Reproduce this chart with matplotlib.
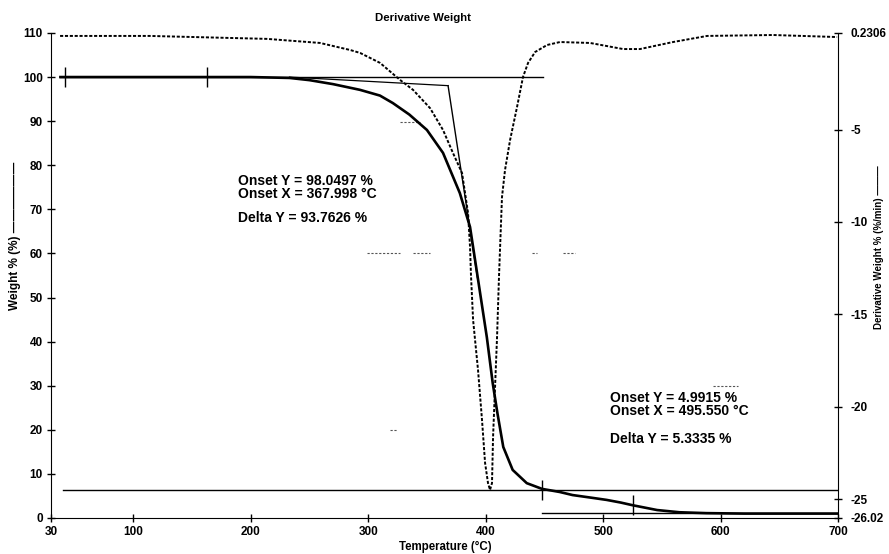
import matplotlib
matplotlib.use("Agg")
import matplotlib.pyplot as plt

plt.rcParams['font.family'] = ['Liberation Sans', 'DejaVu Sans']
plt.rcParams['font.weight'] = 'bold'

# TGA weight curve, weight % vs temperature (C)
temp_w = [38, 100, 150, 200, 233, 250, 270, 293, 310, 321, 335, 350, 363.7, 378,
          386.7, 393, 401, 406, 410, 415, 423, 435, 448, 463, 474, 490, 503, 515,
          525, 546, 565, 588, 620, 660, 700]
weight = [100, 100, 100, 100, 99.8, 99.3, 98.4, 97.1, 95.8, 94.1, 91.5, 88, 82.8, 73.7,
          66, 55, 41, 30.6, 23.8, 16.1, 10.9, 7.9, 6.6, 5.9, 5.2, 4.6, 4.1, 3.5,
          2.9, 1.8, 1.3, 1.1, 1.0, 1.0, 1.0]

# derivative weight, %/min
temp_d = [37.7, 114, 214, 259, 284.6, 293.1, 310.1, 327.1, 338.2, 352.7, 363.7, 372.2,
          379.9, 385, 386.7, 387.5, 389.3, 393.5, 396.9, 399.5, 402, 403.7, 405.4,
          406.3, 408, 409.7, 411.4, 413.9, 416.5, 420.8, 426.7, 431.8, 436.1, 442.1,
          452.3, 463.3, 488.9, 517, 531.4, 559.5, 588.5, 644.7, 699.2]
deriv = [0.07, 0.07, -0.09, -0.31, -0.69, -0.85, -1.39, -2.31, -2.85, -3.84, -5.02, -6.27,
         -7.35, -9.51, -11.35, -12.87, -15.30, -18.01, -20.72, -23.04, -24.13, -24.50, -24.13,
         -21.64, -18.93, -16.22, -12.87, -8.65, -7.18, -5.56, -3.78, -2.15, -1.39, -0.80,
         -0.42, -0.26, -0.31, -0.64, -0.64, -0.26, 0.07, 0.12, 0.01]

# step analysis construction lines
top_T = [38, 449]
top_w = [100, 100]
base_T = [233, 368.0]
base_w = [100, 98.05]
tangent_T = [368.0, 393.0]
tangent_w = [98.05, 54.5]
mid_T = [40, 700]
mid_w = [6.25, 6.25]
end_T = [448, 700]
end_w = [1.07, 1.07]
limit_T = [42, 163, 448, 525.5]
limit_w = [100, 100, 6.3, 2.9]

# small specks left over in the scan: (start T, end T, level)
specks = [(299, 327, 60.1), (338, 352.7, 60.1), (439.5, 443.8, 60.1), (465.9, 476, 60.1),
          (327, 344, 89.8), (318.6, 324.6, 20.0), (593.6, 614.9, 29.9)]

step1_text = ["Onset Y = 98.0497 %", "Onset X = 367.998 °C", "Delta Y = 93.7626 %"]
step2_text = ["Onset Y = 4.9915 %", "Onset X = 495.550 °C", "Delta Y = 5.3335 %"]

x_ticks = [30, 100, 200, 300, 400, 500, 600, 700]
y_ticks = list(range(0, 111, 10))
d_ticks = [0.2306, -5, -10, -15, -20, -25, -26.02]
d_labels = ["0.2306", "-5", "-10", "-15", "-20", "-25", "-26.02"]

fig = plt.figure(figsize=(8.89, 5.54), dpi=100)
ax = fig.add_axes([0.0574, 0.065, 0.8853, 0.8755])
ax2 = ax.twinx()

ax.plot(temp_w, weight, color='black', linewidth=1.9, zorder=3)
ax.plot(top_T, top_w, color='black', linewidth=1.0)
ax.plot(base_T, base_w, color='black', linewidth=0.9)
ax.plot(tangent_T, tangent_w, color='black', linewidth=1.0)
ax.plot(mid_T, mid_w, color='black', linewidth=1.0)
ax.plot(end_T, end_w, color='black', linewidth=1.0)
ax.plot(limit_T, limit_w, linestyle='none', marker='|', markersize=14,
        markeredgewidth=1.0, color='black')
for t0, t1, lev in specks:
    ax.plot([t0, t1], [lev, lev], color='#555555', linewidth=0.8, linestyle=(0, (2, 1.5)))

ax2.plot(temp_d, deriv, color='black', linewidth=1.4, linestyle=(0, (1.6, 0.9)))

ax.set_xlim(30, 700)
ax.set_ylim(0, 110)
ax2.set_ylim(-26.02, 0.2306)

ax.set_xticks(x_ticks)
ax.set_yticks(y_ticks)
ax2.set_yticks(d_ticks)
ax2.set_yticklabels(d_labels)

ax.tick_params(axis='both', direction='inout', length=6, width=1, labelsize=8.5, pad=3)
ax2.tick_params(axis='y', direction='inout', length=6, width=1, labelsize=8.5, pad=6)

for a in (ax, ax2):
    a.spines['top'].set_visible(False)
ax.spines['right'].set_visible(False)
ax2.spines['left'].set_visible(False)
ax2.spines['bottom'].set_visible(False)

for i, s in enumerate(step1_text):
    ax.text(189.2, [76.4, 73.4, 68.0][i], s, fontsize=10, ha='left', va='center')
for i, s in enumerate(step2_text):
    ax.text(505.9, [27.2, 24.3, 17.9][i], s, fontsize=10, ha='left', va='center')

fig.text(423 / 889, 1 - 18 / 554, "Derivative Weight", fontsize=8.2, ha='center', va='center')
fig.text(445 / 889, 1 - 547 / 554, "Temperature (°C)", fontsize=8.3, ha='center', va='center')
fig.text(15 / 889, 1 - 236 / 554, "Weight % (%) ——————", fontsize=8.5, rotation=90,
         ha='center', va='center')
fig.text(879 / 889, 1 - 247 / 554, "Derivative Weight % (%/min) ———", fontsize=7,
         rotation=90, ha='center', va='center')

fig.savefig("out.png", dpi=100)
